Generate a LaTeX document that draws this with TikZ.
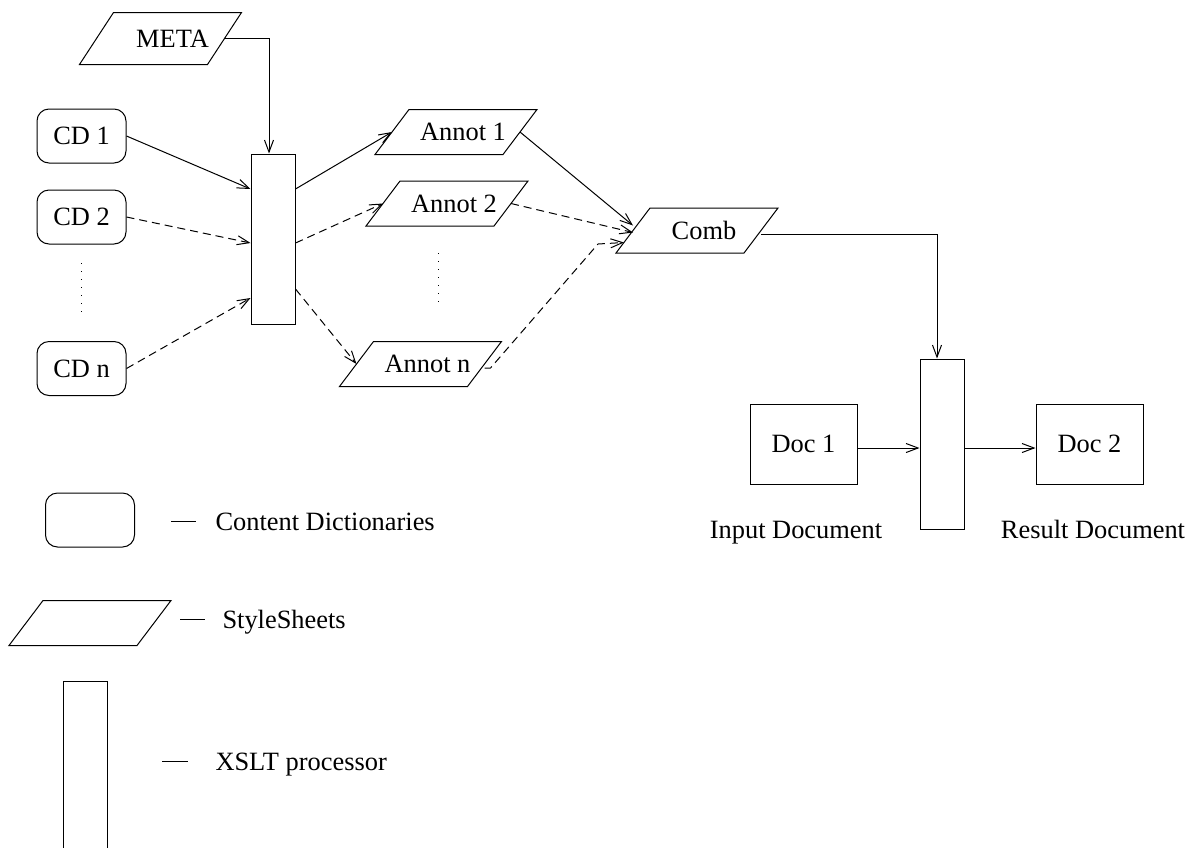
\documentclass[tikz,border=0pt]{standalone}
\usepackage{fontspec}
\setmainfont{Liberation Serif}
\usetikzlibrary{arrows.meta}

\begin{document}
\begin{tikzpicture}[x=1pt,y=-1pt,line width=1pt,
		>={Straight Barb[length=12pt,width=9pt]},
		every node/.style={font=\fontsize{26.4}{30}\selectfont},
		dict/.style={draw, rounded corners=12pt, minimum width=89pt, minimum height=54pt, inner sep=0pt},
		sheet/.style={minimum width=127pt, minimum height=44pt, inner sep=0pt,
			execute at begin node={\hspace*{14pt}},
			append after command={\pgfextra{\draw
				([xshift=-17pt]\tikzlastnode.south west) -- ([xshift=-17pt]\tikzlastnode.south east)
				-- ([xshift=17pt]\tikzlastnode.north east) -- ([xshift=17pt]\tikzlastnode.north west) -- cycle;}}},
		proc/.style={draw, minimum width=44pt, minimum height=170pt, inner sep=0pt},
		doc/.style={draw, minimum width=107pt, minimum height=80pt, inner sep=0pt},
		flow/.style={dash pattern=on 8pt off 5pt},
		dots/.style={dash pattern=on 1pt off 7pt},
		key/.style={anchor=base west, inner sep=0pt}]
	\useasboundingbox (0,0) rectangle (1189,847);
	\node[sheet, minimum height=51pt] (meta) at (160.5,38.5) {\hspace*{10pt}META};
	\node[dict] (cd1) at (81.5,136) {CD 1};
	\node[dict] (cd2) at (81.5,217) {CD 2};
	\node[dict] (cdn) at (81.5,368.5) {CD n};
	\node[proc] (proc1) at (273,239) {};
	\node[sheet] (annot1) at (456,132) {Annot 1};
	\node[sheet] (annot2) at (447,203.5) {Annot 2};
	\node[sheet] (annotn) at (420.5,364) {Annot n};
	\node[sheet] (comb) at (697,230.5) {Comb};
	\node[proc] (proc2) at (942,444) {};
	\node[doc] (doc1) at (803.5,444) {Doc 1};
	\node[doc] (doc2) at (1089.5,444) {Doc 2};
	\node[anchor=base, inner sep=0pt] (input) at (796,538) {Input Document};
	\node[anchor=base, inner sep=0pt] (result) at (1093,538) {Result Document};
	\draw[dots] (81,263) -- (81,315);
	\draw[dots] (438,253) -- (438,306);

	\draw[->] (meta.east) -| ([xshift=-4pt]proc1.north);
	\draw[->] (cd1.east) -- ([yshift=50pt]proc1.west);
	\draw[flow,->] (cd2.east) -- ([yshift=-4pt]proc1.west);
	\draw[flow,->] (cdn.east) -- ([yshift=-59pt]proc1.west);
	\draw[->] ([yshift=50pt]proc1.east) -- (annot1.west);
	\draw[flow,->] ([yshift=-4pt]proc1.east) -- (annot2.west);
	\draw[flow,->] ([yshift=-50pt]proc1.east) -- (annotn.west);
	\draw[->] (annot1.east) -- ([yshift=5pt]comb.west);
	\draw[flow,->] (annot2.east) -- ([yshift=-2pt]comb.west);
	\coordinate (bend) at (598,244);
	\draw[flow,->] ([yshift=-4pt]annotn.east) -- ++(6,0) -- (bend) -- ([xshift=-9pt,yshift=-12pt]comb.west);
	\draw[->] ([yshift=-4pt]comb.east) -| ([xshift=-5pt]proc2.north);
	\draw[->] ([yshift=-4pt]doc1.east) -- ([yshift=-4pt]proc2.west);
	\draw[->] ([yshift=-4pt]proc2.east) -- ([yshift=-4pt]doc2.west);

	\node[dict] (keydict) at (90,520) {};
	\node[sheet] (keysheet) at (90,623) {};
	\node[proc] (keyproc) at (85.5,766) {};
	\node[key] (keydicttext) at (215,530) {Content Dictionaries};
	\node[key] (keysheettext) at (222,628) {StyleSheets};
	\node[key] (keyproctext) at (215,770) {XSLT processor};
	\draw ([xshift=-44pt,yshift=9pt]keydicttext.base west) -- ([xshift=-19pt,yshift=9pt]keydicttext.base west);
	\draw ([xshift=-42pt,yshift=9pt]keysheettext.base west) -- ([xshift=-17pt,yshift=9pt]keysheettext.base west);
	\draw ([xshift=-53pt,yshift=9pt]keyproctext.base west) -- ([xshift=-27pt,yshift=9pt]keyproctext.base west);
\end{tikzpicture}
\end{document}
